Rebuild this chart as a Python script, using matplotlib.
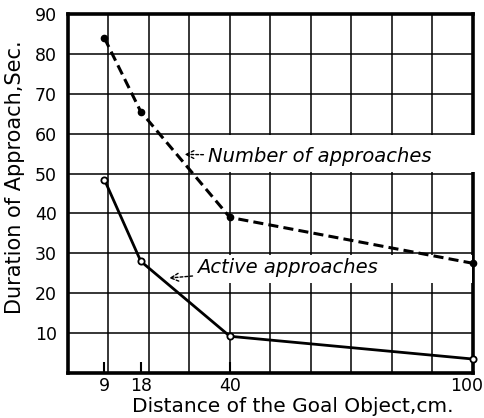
import matplotlib.pyplot as plt
from matplotlib.patches import Rectangle
from matplotlib.transforms import offset_copy

distance = [9, 18, 40, 100]
number_of_approaches = [84, 65.5, 39, 27.5]
active_approaches = [48.5, 28, 9.2, 3.5]
y_ticks = [10, 20, 30, 40, 50, 60, 70, 80, 90]

fig = plt.figure(figsize=(4.85, 4.18), dpi=100)
ax = fig.add_axes([0.140, 0.1077, 0.835, 0.8588])

ax.set_xlim(0, 100)
ax.set_ylim(0, 90)

# grid every 10 units, thin lines
for gx in range(10, 100, 10):
    ax.axvline(gx, color='k', lw=1.1, zorder=1)
for gy in range(10, 90, 10):
    ax.axhline(gy, color='k', lw=1.1, zorder=1)

for s in ax.spines.values():
    s.set_linewidth(2.6)

ax.plot(distance, number_of_approaches, color='k', lw=2.2, ls=(0, (3.3, 1.7)),
        marker='o', ms=4.5, mfc='k', mec='k', zorder=4, clip_on=False)
ax.plot(distance, active_approaches, color='k', lw=2.0, ls='-',
        marker='o', ms=4.5, mfc='white', mec='k', mew=1.3, zorder=4, clip_on=False)

# white patches behind the labels
ax.add_patch(Rectangle((31.5, 50.4), 70, 9.2, fc='white', ec='none', zorder=3, clip_on=False))
ax.add_patch(Rectangle((30.5, 22.6), 69.3, 7.0, fc='white', ec='none', zorder=3))

ax.annotate('Number of approaches', xy=(28.8, 54.8), xytext=(34.5, 54.3),
            fontsize=14, style='italic', va='center', zorder=5,
            arrowprops=dict(arrowstyle='->', ls=(0, (2, 1.5)), lw=1.0, color='k',
                            shrinkA=1, shrinkB=0))
ax.annotate('Active approaches', xy=(25.0, 23.8), xytext=(31.8, 26.4),
            fontsize=14, style='italic', va='center', zorder=5,
            arrowprops=dict(arrowstyle='->', ls=(0, (2, 1.5)), lw=1.0, color='k',
                            shrinkA=1, shrinkB=0))

ax.set_xticks(distance)
ax.set_xticklabels([str(d) for d in distance], fontsize=12.5)
ax.tick_params(axis='x', direction='in', length=8, width=1.5, pad=3)
last = ax.get_xticklabels()[-1]
last.set_transform(offset_copy(last.get_transform(), fig=fig, x=-6, units='dots'))
ax.set_yticks(y_ticks)
ax.set_yticklabels([str(v) for v in y_ticks], fontsize=12.5)
ax.tick_params(axis='y', length=0, pad=8)

ax.set_xlabel('Distance of the Goal Object,cm.', fontsize=14.5, labelpad=0)
ax.xaxis.set_label_coords(0.555, -0.068)
ax.set_ylabel('Duration of Approach,Sec.', fontsize=15, labelpad=2)
ax.yaxis.set_label_coords(-0.105, 0.545)

plt.savefig('out.png', dpi=100)
